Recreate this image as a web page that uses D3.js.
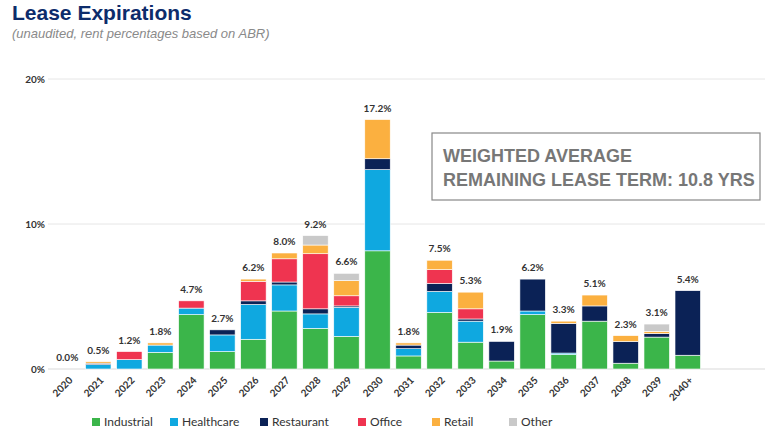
<!DOCTYPE html><html><head><meta charset="utf-8"><script src="https://cdn.jsdelivr.net/npm/d3@7"></script>
<style>body{margin:0;background:#fff;font-family:Lato,"Open Sans",sans-serif}</style></head><body><svg id="c" width="775" height="438"></svg><script>
const years=["2020","2021","2022","2023","2024","2025","2026","2027","2028","2029","2030","2031","2032","2033","2034","2035","2036","2037","2038","2039","2040+"];
const totals=["0.0%","0.5%","1.2%","1.8%","4.7%","2.7%","6.2%","8.0%","9.2%","6.6%","17.2%","1.8%","7.5%","5.3%","1.9%","6.2%","3.3%","5.1%","2.3%","3.1%","5.4%"];
const industrial=[0,0,0,1.15,3.75,1.2,2.05,4.0,2.8,2.25,8.15,0.9,3.9,1.85,0.55,3.75,1.0,3.3,0.4,2.2,0.95];
const healthcare=[0,0.3,0.65,0.5,0.45,1.15,2.4,1.8,1.0,2.0,5.6,0.5,1.45,1.45,0,0.25,0.1,0,0,0,0];
const restaurant=[0,0.1,0,0,0,0.35,0.25,0.2,0.35,0.1,0.75,0.25,0.55,0.15,1.35,2.2,2.05,1.05,1.5,0.25,4.45];
const office=[0,0,0.55,0,0.5,0,1.35,1.6,3.8,0.7,0,0,0.95,0.7,0,0,0,0,0,0,0];
const retail=[0,0.1,0,0.15,0,0,0.15,0.4,0.6,1.05,2.7,0.15,0.65,1.15,0,0,0.15,0.75,0.4,0.15,0];
const other=[0,0,0,0,0,0,0,0,0.65,0.5,0,0,0,0,0,0,0,0,0,0.5,0];
const seriesNames=["Industrial","Healthcare","Restaurant","Office","Retail","Other"];
const colors=["#3bb54a","#0fa8e0","#0b2256","#ef3450","#fbb040","#c9c9c9"];
const yTicks=[0,10,20];
const arrs=[industrial,healthcare,restaurant,office,retail,other];
const rows=years.map((y,i)=>{const o={year:y};seriesNames.forEach((s,k)=>o[s]=arrs[k][i]);return o;});
const svg=d3.select("#c");
svg.append("text").attr("x",12).attr("y",20).attr("font-family","Liberation Sans, Arial, sans-serif").attr("font-size",21).attr("font-weight",700).attr("fill","#0d2c6b").text("Lease Expirations");
svg.append("text").attr("x",12).attr("y",38).attr("font-family","Liberation Sans, Arial, sans-serif").attr("font-size",13).attr("font-style","italic").attr("fill","#8a8a8a").text("(unaudited, rent percentages based on ABR)");
const x=d3.scaleBand().domain(years).range([53,702]).paddingInner(0.18).paddingOuter(0.05);
const y=d3.scaleLinear().domain([0,20]).range([369,79]);
const g=svg.append("g");
yTicks.forEach(t=>{g.append("line").attr("x1",48).attr("x2",765).attr("y1",y(t)).attr("y2",y(t)).attr("stroke",t?"#e6e6e6":"#d9d9d9");
g.append("text").attr("x",45).attr("y",y(t)+4).attr("text-anchor","end").attr("font-size",10).attr("font-weight",700).attr("fill","#333").text(t+"%");});
const stack=d3.stack().keys(seriesNames)(rows);
stack.forEach((s,k)=>g.selectAll(null).data(s).join("rect").attr("x",d=>x(d.data.year)).attr("width",x.bandwidth())
 .attr("y",d=>y(d[1])).attr("height",d=>Math.max(0,y(d[0])-y(d[1]))).attr("fill",colors[k]).attr("stroke","#fff").attr("stroke-width",0.6));
years.forEach((yr,i)=>{const tot=arrs.reduce((a,b)=>a+b[i],0);
 g.append("text").attr("x",x(yr)+x.bandwidth()/2).attr("y",y(tot)-8).attr("text-anchor","middle").attr("font-size",10).attr("font-weight",700).attr("fill","#333").text(totals[i]);
 g.append("text").attr("transform",`translate(${x(yr)+x.bandwidth()/2+6},${381}) rotate(-45)`).attr("text-anchor","end").attr("font-size",10).attr("font-weight",700).attr("fill","#333").text(yr);});
svg.append("rect").attr("x",432).attr("y",133).attr("width",328).attr("height",67).attr("fill","#fff").attr("stroke","#888").attr("stroke-width",1.2);
["WEIGHTED AVERAGE","REMAINING LEASE TERM: 10.8 YRS"].forEach((t,i)=>svg.append("text").attr("x",443).attr("y",162+i*24).attr("font-family","Liberation Sans, Arial, sans-serif").attr("font-size",18).attr("font-weight",700).attr("fill","#777").text(t));
const lx=[92,170,260,358,432,509];
seriesNames.forEach((s,k)=>{svg.append("rect").attr("x",lx[k]).attr("y",418).attr("width",8).attr("height",8).attr("fill",colors[k]);
 svg.append("text").attr("x",lx[k]+12).attr("y",426).attr("font-size",12).attr("fill","#333").text(s);});
</script></body></html>
